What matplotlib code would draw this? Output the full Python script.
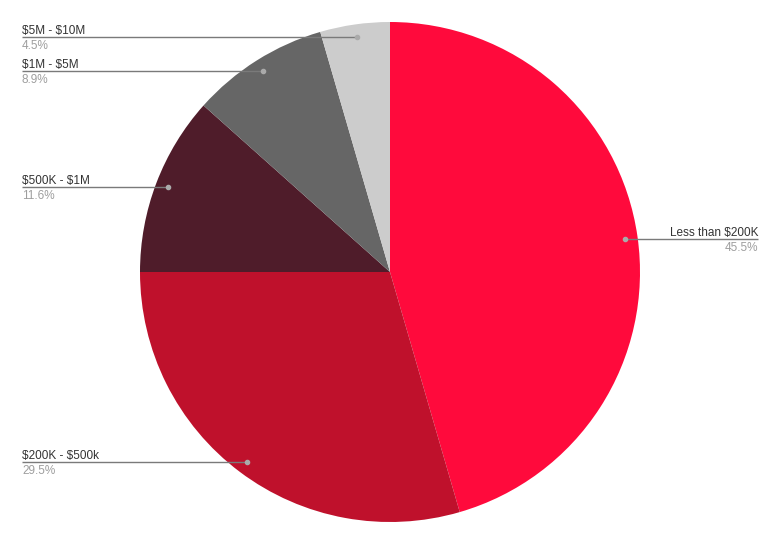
import numpy as np
import matplotlib
matplotlib.use("Agg")
import matplotlib.pyplot as plt

categories = ["Less than $200K", "$200K - $500k", "$500K - $1M", "$1M - $5M", "$5M - $10M"]
values = [45.5, 29.5, 11.6, 8.9, 4.5]
pct_labels = ["45.5%", "29.5%", "11.6%", "8.9%", "4.5%"]
colors = ["#FF0A3C", "#BF112C", "#4F1C2A", "#666666", "#CCCCCC"]

plt.rcParams["font.family"] = ["Liberation Sans", "DejaVu Sans"]

W, H = 769, 548
fig = plt.figure(figsize=(W / 100, H / 100), dpi=100)
ax = fig.add_axes([0, 0, 1, 1])

cx, cy, R = 390, H - 272, 250
ax.pie(values, colors=colors, startangle=90, counterclock=False,
       center=(cx, cy), radius=R, frame=True,
       wedgeprops=dict(linewidth=0))
ax.set_xlim(0, W)
ax.set_ylim(0, H)
ax.set_aspect("equal")
ax.axis("off")

total = sum(values)
cum = 0.0
for cat, v, pl in zip(categories, values, pct_labels):
    mid = (cum + v / 2) / total
    cum += v
    ang = np.deg2rad(90 - mid * 360)
    px = cx + 0.95 * R * np.cos(ang)
    py = cy + 0.95 * R * np.sin(ang)
    if px > cx:
        x_end = 758
        ha = "right"
    else:
        x_end = 22
        ha = "left"
    ax.plot([px, x_end], [py, py], color="#7a7a7a", lw=1, solid_capstyle="butt", zorder=5)
    ax.plot([px], [py], marker="o", ms=3, color="#aaaaaa", mec="#aaaaaa", zorder=6)
    ax.text(x_end, py + 3, cat, ha=ha, va="baseline", fontsize=8.5, color="#333333",
            parse_math=False)
    ax.text(x_end, py - 12, pl, ha=ha, va="baseline", fontsize=8.5, color="#9e9e9e",
            parse_math=False)

fig.savefig("out.png", dpi=100, facecolor="white")
